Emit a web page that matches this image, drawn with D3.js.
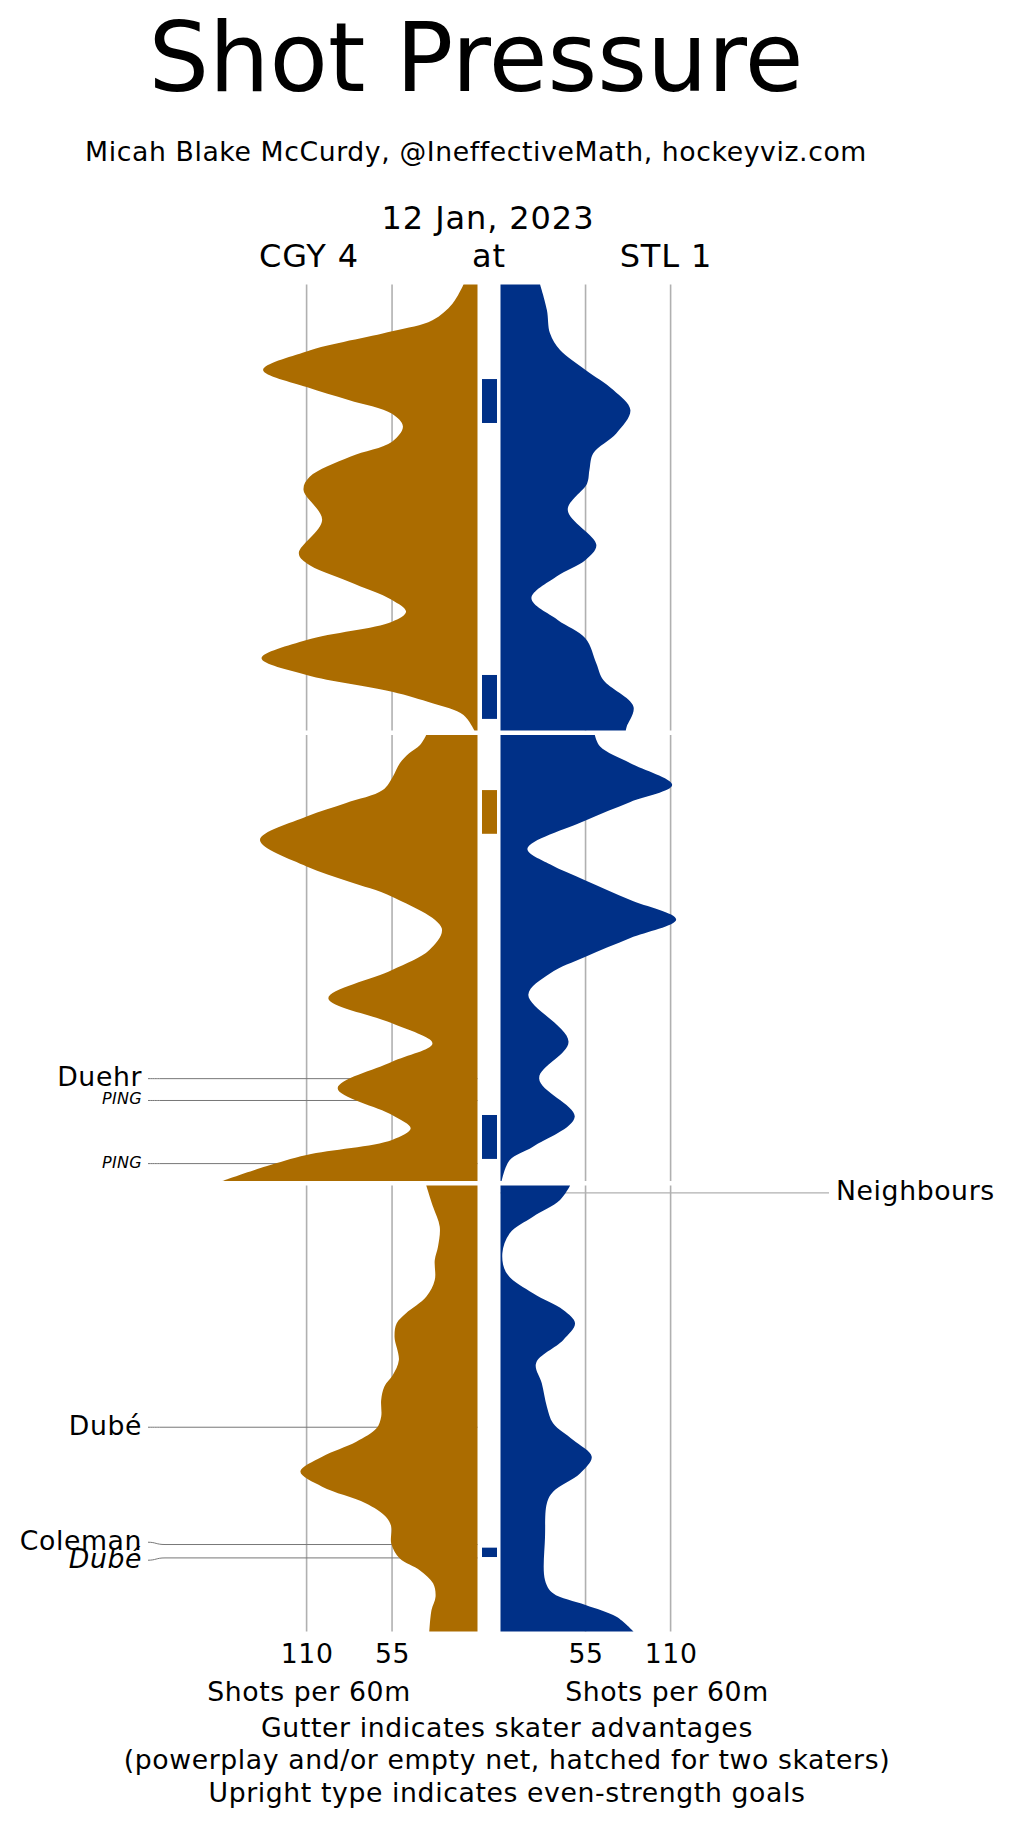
<!DOCTYPE html>
<html>
<head>
<meta charset="utf-8">
<script src="https://cdn.jsdelivr.net/npm/d3@7"></script>
<style>
  body { margin: 0; background: #fff; }
  svg { display: block; font-family: 'DejaVu Sans', sans-serif; }
</style>
</head>
<body>
<div class="svg-container"></div>
<script>
// shot rates (shots per 60m) as [minute of period, rate] pairs
const cgyP1 = [[0, 9], [0.85, 16], [1.6, 29], [2.1, 55], [3.0, 110], [3.83, 138], [4.6, 110], [5.18, 83], [5.8, 55], [6.37, 48], [7.05, 55], [7.72, 82], [8.62, 108], [9.2, 112], [10.56, 100], [12.05, 115], [12.5, 110], [13.32, 83], [14.15, 55], [14.67, 46], [15.12, 55], [15.94, 110], [16.76, 139], [17.51, 110], [18.26, 55], [18.78, 29], [19.3, 9], [20, 2]];
const stlP1 = [[0, 25.6], [1.14, 30], [2.19, 32], [2.94, 38.5], [3.83, 55], [4.73, 73], [5.63, 84], [6.67, 75], [7.57, 60], [8.32, 57.5], [8.92, 56], [10.11, 43.5], [11.68, 62], [12.35, 55], [13.1, 36], [14.07, 20], [15.04, 37], [15.87, 55], [16.99, 62], [17.74, 66.5], [18.93, 86], [19.83, 81.6], [20, 81]];
const cgyP2 = [[0, 33], [0.45, 37], [0.82, 44], [1.27, 50], [1.87, 54.5], [2.47, 61], [3.06, 85], [3.66, 110], [4.71, 140], [5.9, 110], [6.57, 83], [7.25, 55], [8.67, 23], [9.64, 31], [10.54, 55], [11.81, 96], [12.93, 55], [13.83, 29], [14.65, 55], [15.84, 90], [17.04, 55], [17.64, 43], [18.16, 55], [18.83, 110], [19.34, 136], [20, 164]];
const stlP2 = [[0, 61], [0.52, 64.4], [1.27, 84], [2.24, 111], [3.0, 84], [3.83, 55], [5.1, 17.4], [5.8, 32], [6.52, 55], [7.4, 84], [8.27, 113.6], [9.1, 84], [9.94, 55], [10.69, 32], [11.65, 18], [13.75, 44], [15.4, 25], [17.12, 48], [18.46, 21], [19.06, 6], [20, 0.8]];
const cgyP3 = [[0, 33], [0.95, 28.6], [1.85, 24.3], [2.74, 25.4], [3.34, 27.5], [4.24, 27.5], [4.99, 33], [5.73, 46], [6.18, 52], [6.78, 53.4], [7.83, 50.6], [8.5, 54.5], [9.02, 60], [9.62, 62], [10.37, 62], [10.89, 65], [11.49, 78], [12.16, 100], [12.83, 114], [13.51, 100], [14.25, 72], [14.85, 59], [15.3, 55.5], [16.05, 55.5], [16.73, 50], [17.26, 37], [17.84, 28.6], [18.44, 27], [19.04, 29.6], [20, 31]];
const stlP3 = [[0, 45], [0.65, 38.5], [1.4, 21], [2.14, 6], [3.04, 1.2], [3.94, 4], [4.83, 21], [5.58, 40.6], [6.18, 48.2], [6.93, 40.6], [7.97, 23], [8.87, 26.7], [9.92, 30], [10.66, 34], [11.41, 47], [12.16, 59], [12.91, 51.4], [13.73, 34], [14.25, 30], [15.75, 28.8], [17.7, 28.8], [18.29, 34], [18.81, 55], [19.34, 75], [20, 86]];

const cgyRates = [cgyP1, cgyP2, cgyP3];
const stlRates = [stlP1, stlP2, stlP3];

// skater advantages shown in the gutter: [period, team, start, end]
const advantages = [[1, 'STL', 4.24, 6.21], [1, 'STL', 17.51, 19.48], [2, 'CGY', 2.47, 4.43], [2, 'STL', 17.04, 19.01], [3, 'STL', 16.24, 16.66]];

// goal labels: [name, team, period, minute, even strength, small type]
const goals = [
  ['Duehr', 'CGY', 2, 15.41, true, false],
  ['PING', 'CGY', 2, 16.39, false, true],
  ['PING', 'CGY', 2, 19.22, false, true],
  ['Neighbours', 'STL', 3, 0.33, true, false],
  ['Dubé', 'CGY', 3, 10.84, true, false],
  ['Coleman', 'CGY', 3, 16.1, true, false],
  ['Dubé', 'CGY', 3, 16.7, false, false]
];

const ticks = [55, 110];
const noteLines = ['Gutter indicates skater advantages', '(powerplay and/or empty net, hatched for two skaters)', 'Upright type indicates even-strength goals'];

// set up dimensions
const width = 1014;
const height = 1827;
const plotTop = 284.5;
const periodHeight = 446;
const periodGap = 4.5;
const colors = { CGY: '#ab6c00', STL: '#003087' };
const bodySize = 26.7;
const bodySpacing = 0.6;

const svg = d3.select('.svg-container')
  .append('svg')
  .attr('width', width)
  .attr('height', height);

// scales: rates grow away from the central gutter
const xLeft = d3.scaleLinear().domain([0, 110]).range([477.5, 306.6]);
const xRight = d3.scaleLinear().domain([0, 110]).range([500.5, 670.6]);
const yPeriod = p => d3.scaleLinear()
  .domain([0, 20])
  .range([plotTop + (p - 1) * (periodHeight + periodGap), plotTop + (p - 1) * (periodHeight + periodGap) + periodHeight]);
const yAt = (p, t) => yPeriod(p)(t);

// headings
svg.append('text')
  .attr('x', 476).attr('y', 91)
  .attr('text-anchor', 'middle')
  .attr('font-size', 95.5)
  .text('Shot Pressure');

svg.append('text')
  .attr('x', 476).attr('y', 161)
  .attr('text-anchor', 'middle')
  .attr('font-size', bodySize)
  .attr('letter-spacing', bodySpacing)
  .text('Micah Blake McCurdy, @IneffectiveMath, hockeyviz.com');

svg.append('text')
  .attr('x', 488).attr('y', 229)
  .attr('text-anchor', 'middle')
  .attr('font-size', 32)
  .attr('letter-spacing', 0.9)
  .text('12 Jan, 2023');

[['CGY 4', 309], ['at', 489], ['STL 1', 666]].forEach(([label, x]) => {
  svg.append('text')
    .attr('x', x).attr('y', 267)
    .attr('text-anchor', 'middle')
    .attr('font-size', 32)
    .attr('letter-spacing', 0.9)
    .text(label);
});

// gridlines, one set per period
const grid = svg.append('g').attr('stroke', '#b0b0b0').attr('stroke-width', 1.6);
[1, 2, 3].forEach(p => {
  const y = yPeriod(p);
  ticks.forEach(v => {
    [xLeft(v), xRight(v)].forEach(x => {
      grid.append('line')
        .attr('x1', x).attr('x2', x)
        .attr('y1', y(0)).attr('y2', y(20));
    });
  });
});

// goal connector lines sit behind the areas
const leftGoals = goals.filter(g => g[1] === 'CGY')
  .map(g => ({ name: g[0], y: yAt(g[2], g[3]), even: g[4], small: g[5] }))
  .sort((a, b) => a.y - b.y);
leftGoals.forEach(g => { g.ly = g.y; });
// spread labels that would sit on top of each other
for (let i = 1; i < leftGoals.length; i++) {
  const a = leftGoals[i - 1], b = leftGoals[i];
  if (!a.small && !b.small && b.y - a.y < 18) {
    const mid = (a.y + b.y) / 2;
    a.ly = mid - 9;
    b.ly = mid + 9;
  }
}

const links = svg.append('g').attr('fill', 'none');
leftGoals.forEach(g => {
  links.append('path')
    .attr('stroke', '#777')
    .attr('stroke-width', 1)
    .attr('d', `M148,${g.ly} C156,${g.ly} 156,${g.y} 165,${g.y} L${xLeft(0)},${g.y}`);
  svg.append('text')
    .attr('x', 142)
    .attr('y', g.ly + (g.small ? 4 : 7.5))
    .attr('text-anchor', 'end')
    .attr('font-size', g.small ? 16 : bodySize)
    .attr('letter-spacing', g.small ? 0.3 : bodySpacing)
    .attr('font-style', g.even ? 'normal' : 'italic')
    .text(g.name);
});

goals.filter(g => g[1] === 'STL').forEach(g => {
  const y = yAt(g[2], g[3]);
  links.append('line')
    .attr('stroke', '#b0b0b0')
    .attr('stroke-width', 1.2)
    .attr('x1', xRight(0)).attr('x2', 829)
    .attr('y1', y).attr('y2', y);
  svg.append('text')
    .attr('x', 836)
    .attr('y', y + 7)
    .attr('font-size', bodySize)
    .attr('letter-spacing', bodySpacing)
    .attr('font-style', g[4] ? 'normal' : 'italic')
    .text(g[0]);
});

// shot pressure areas
[1, 2, 3].forEach(p => {
  const y = yPeriod(p);
  const leftArea = d3.area()
    .curve(d3.curveCatmullRom.alpha(0.5))
    .y(d => y(d[0]))
    .x0(xLeft(0))
    .x1(d => xLeft(d[1]));
  const rightArea = d3.area()
    .curve(d3.curveCatmullRom.alpha(0.5))
    .y(d => y(d[0]))
    .x0(xRight(0))
    .x1(d => xRight(d[1]));

  svg.append('path')
    .datum(cgyRates[p - 1])
    .attr('fill', colors.CGY)
    .attr('d', leftArea);
  svg.append('path')
    .datum(stlRates[p - 1])
    .attr('fill', colors.STL)
    .attr('d', rightArea);
});

// gutter bars for skater advantages
svg.append('g')
  .selectAll('rect')
  .data(advantages)
  .enter()
  .append('rect')
  .attr('x', 482)
  .attr('width', 15)
  .attr('y', d => yAt(d[0], d[2]))
  .attr('height', d => yAt(d[0], d[3]) - yAt(d[0], d[2]))
  .attr('fill', d => colors[d[1]]);

// tick labels from the axes
const axisY = plotTop + 3 * periodHeight + 2 * periodGap;
[xLeft, xRight].forEach(scale => {
  const axis = svg.append('g')
    .attr('transform', `translate(0,${axisY})`)
    .call(d3.axisBottom(scale).tickValues(ticks).tickSize(0).tickFormat(d3.format('d')));
  axis.select('.domain').remove();
  axis.selectAll('text')
    .attr('y', 1663 - axisY)
    .attr('dy', 0)
    .attr('fill', '#000')
    .attr('font-family', 'DejaVu Sans')
    .attr('font-size', bodySize)
    .attr('letter-spacing', bodySpacing);
});

[309, 667].forEach(x => {
  svg.append('text')
    .attr('x', x).attr('y', 1701)
    .attr('text-anchor', 'middle')
    .attr('font-size', bodySize)
    .attr('letter-spacing', bodySpacing)
    .text('Shots per 60m');
});

noteLines.forEach((line, i) => {
  svg.append('text')
    .attr('x', 507).attr('y', 1736.5 + i * 32.5)
    .attr('text-anchor', 'middle')
    .attr('font-size', bodySize)
    .attr('letter-spacing', bodySpacing)
    .text(line);
});
</script>
</body>
</html>
